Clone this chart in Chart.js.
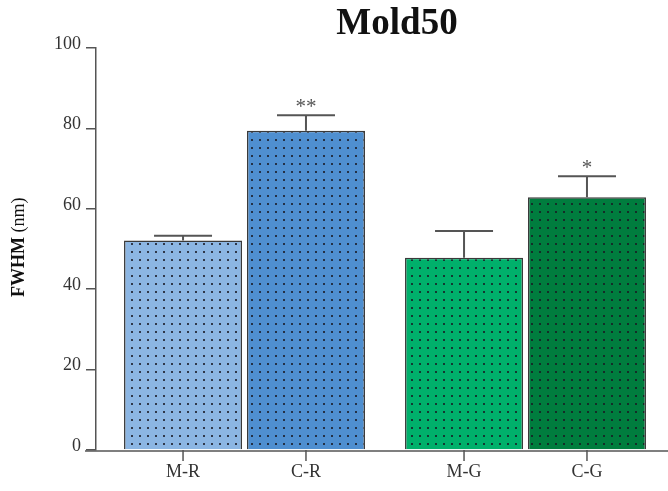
<!DOCTYPE html>
<html>
<head>
<meta charset="utf-8">
<script src="https://cdn.jsdelivr.net/npm/chart.js@4.4.0/dist/chart.umd.min.js"></script>
<style>
  body { margin: 0; background: #fff; }
</style>
</head>
<body>
<canvas id="moldChart" width="668" height="491"></canvas>
<script>
// groups on the x axis, two series (M and C) per group
const groups = ['R', 'G'];
const tickLabels = ['M-R', 'C-R', 'M-G', 'C-G'];
const mValues = [52.1, 47.8];
const cValues = [79.4, 62.9];
const mErrors = [1.2, 6.7];
const cErrors = [3.9, 5.2];
const mSig = ['', ''];
const cSig = ['**', '*'];

const serif = '"Liberation Serif", "Times New Roman", serif';

function dotted(color) {
    const c = document.createElement('canvas');
    c.width = 8;
    c.height = 8;
    const g = c.getContext('2d');
    g.fillStyle = color;
    g.fillRect(0, 0, 8, 8);
    g.fillStyle = 'rgba(25,25,35,0.8)';
    g.fillRect(3, 3, 2, 2);
    return g.createPattern(c, 'repeat');
}

const toPoints = (vals) => vals.map((v, i) => ({x: i, y: v}));

const extras = {
    id: 'extras',
    afterDatasetsDraw(chart) {
        const ctx = chart.ctx;
        const y = chart.scales.y;
        const zero = y.getPixelForValue(0);
        ctx.save();

        chart.data.datasets.forEach((ds, d) => {
            const meta = chart.getDatasetMeta(d);
            meta.data.forEach((bar, i) => {
                const top = y.getPixelForValue(ds.data[i].y + ds.errors[i]);
                ctx.strokeStyle = '#555';
                ctx.lineWidth = 2;
                ctx.beginPath();
                ctx.moveTo(bar.x, bar.y);
                ctx.lineTo(bar.x, top);
                ctx.moveTo(bar.x - 29, top);
                ctx.lineTo(bar.x + 29, top);
                ctx.stroke();

                if (ds.sig[i]) {
                    ctx.fillStyle = '#555';
                    ctx.font = '21px ' + serif;
                    ctx.textAlign = 'center';
                    ctx.textBaseline = 'alphabetic';
                    ctx.fillText(ds.sig[i], bar.x, top - 2);
                }

                // x tick + label under each bar
                ctx.strokeStyle = '#555';
                ctx.lineWidth = 1.5;
                ctx.beginPath();
                ctx.moveTo(bar.x, zero);
                ctx.lineTo(bar.x, zero + 11);
                ctx.stroke();
                ctx.fillStyle = '#333';
                ctx.font = '18px ' + serif;
                ctx.textAlign = 'center';
                ctx.textBaseline = 'middle';
                ctx.fillText(tickLabels[i * 2 + d], bar.x, zero + 22);
            });
        });

        // x axis line
        ctx.strokeStyle = '#555';
        ctx.lineWidth = 1.5;
        ctx.beginPath();
        ctx.moveTo(85, zero + 1);
        ctx.lineTo(668, zero + 1);
        ctx.stroke();

        // title
        ctx.fillStyle = '#111';
        ctx.font = 'bold 37px ' + serif;
        ctx.textAlign = 'center';
        ctx.textBaseline = 'alphabetic';
        ctx.fillText('Mold50', 397, 34);

        // y axis title, bold + normal part
        ctx.translate(24, 297);
        ctx.rotate(-Math.PI / 2);
        ctx.textAlign = 'left';
        ctx.font = 'bold 18px ' + serif;
        ctx.fillText('FWHM', 0, 0);
        const w = ctx.measureText('FWHM').width;
        ctx.font = '18px ' + serif;
        ctx.fillText(' (nm)', w, 0);

        ctx.restore();
    }
};

new Chart('moldChart', {
    type: 'bar',
    data: {
        datasets: [{
            label: 'M',
            data: toPoints(mValues),
            errors: mErrors,
            sig: mSig,
            backgroundColor: [dotted('#8cb6e3'), dotted('#00b06b')],
            borderColor: '#3a3a3a',
            borderWidth: 1.5
        }, {
            label: 'C',
            data: toPoints(cValues),
            errors: cErrors,
            sig: cSig,
            backgroundColor: [dotted('#4f8fd0'), dotted('#007d3e')],
            borderColor: '#3a3a3a',
            borderWidth: 1.5
        }]
    },
    options: {
        responsive: false,
        animation: false,
        categoryPercentage: 0.875,
        barPercentage: 0.96,
        layout: {
            padding: {top: 48, bottom: 41, left: 0, right: 0}
        },
        plugins: {
            legend: {display: false},
            tooltip: {enabled: false}
        },
        scales: {
            x: {
                type: 'linear',
                display: false,
                offset: false,
                grid: {offset: false},
                min: -0.5285,
                max: 1.5071,
                afterBuildTicks: (s) => { s.ticks = groups.map((g, i) => ({value: i})); }
            },
            y: {
                min: 0,
                max: 100,
                afterFit: (s) => { s.width = 96; },
                ticks: {
                    stepSize: 20,
                    color: '#333',
                    padding: 5,
                    labelOffset: -4,
                    font: {family: serif, size: 18}
                },
                grid: {
                    display: true,
                    drawOnChartArea: false,
                    drawTicks: true,
                    tickLength: 10,
                    color: '#555',
                    lineWidth: 1.5
                },
                border: {display: true, color: '#555', width: 1.5}
            }
        }
    },
    plugins: [extras]
});
</script>
</body>
</html>
